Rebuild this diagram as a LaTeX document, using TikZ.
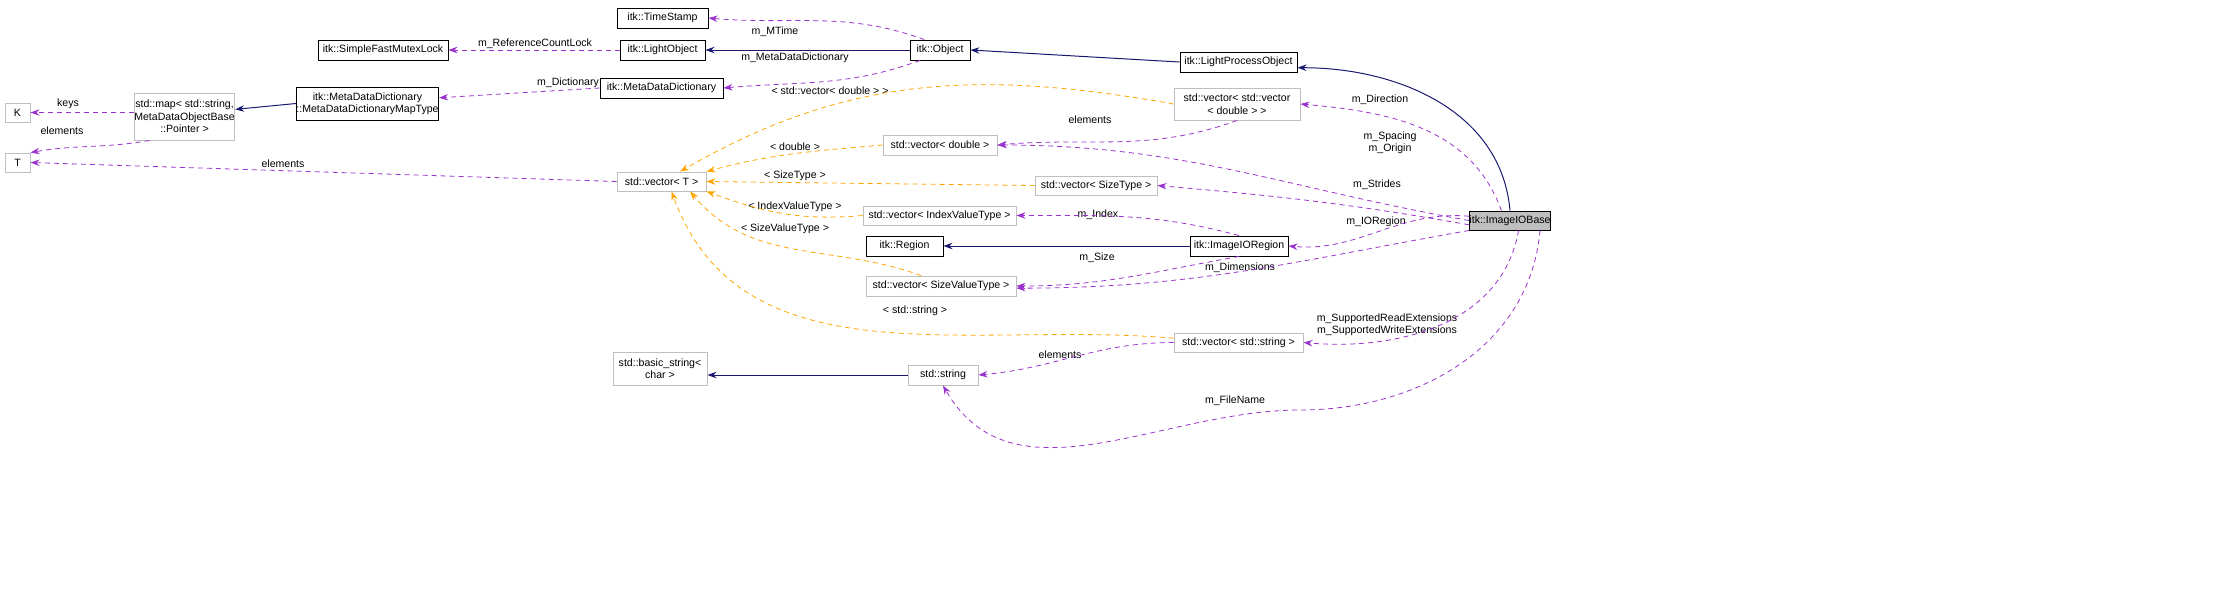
\documentclass[tikz,border=0pt]{standalone}
\usepackage{fontspec}
\setmainfont{Liberation Sans}
\usetikzlibrary{arrows.meta}
\definecolor{pur}{HTML}{9A32CD}
\definecolor{org}{HTML}{FFA500}
\definecolor{nav}{HTML}{191970}
\definecolor{gb}{HTML}{BFBFBF}
\newcommand\bx[6]{\node[#1,minimum width=#4*0.7pt,minimum height=#5*0.7pt] (#2) at (#3) {#6};}
\begin{document}
\begin{tikzpicture}[x=0.7pt,y=-0.7pt,font=\fontsize{7.4}{8.7}\selectfont,
 box/.style={draw=black,line width=0.63pt,inner sep=0,align=center},
 gbox/.style={box,draw=gb},
 tip/.style={-{Stealth[length=6.3pt,width=4.5pt]}},
 mem/.style={tip,pur,dashed,line width=0.56pt,dash pattern=on 3.5pt off 2.8pt},
 tpl/.style={tip,org,dashed,line width=0.56pt,dash pattern=on 3.5pt off 2.8pt},
 inh/.style={tip,nav,line width=0.7pt},
 lbl/.style={inner sep=0,text=black,align=center}]
\useasboundingbox (0,0) rectangle (2235,613);
\bx{box}{ts}{662.5,18}{91}{20}{itk::TimeStamp}
\bx{box}{sfml}{383,50}{130}{20}{itk::SimpleFastMutexLock}
\bx{box}{lo}{662.5,50}{85}{20}{itk::LightObject}
\bx{box}{obj}{940,50}{60}{20}{itk::Object}
\bx{box}{lpo}{1238.5,62}{117}{20}{itk::LightProcessObject}
\bx{box}{mdd}{661.5,88}{123}{20}{itk::MetaDataDictionary}
\bx{box}{mt}{367.5,103.5}{125}{33}{itk::MetaDataDictionary\\::MetaDataDictionaryMapType}
\bx{gbox}{map}{184.5,116.5}{93}{47}{std::map< std::string,\\ MetaDataObjectBase\\::Pointer >}
\bx{gbox}{K}{17.5,112.5}{25}{19}{K}
\bx{gbox}{T}{17.5,162.5}{25}{19}{T}
\bx{gbox}{vvd}{1237,104}{126}{32}{std::vector< std::vector\\< double > >}
\bx{gbox}{vd}{940,145}{114}{20}{std::vector< double >}
\bx{gbox}{vT}{661.5,181.5}{89}{19}{std::vector< T >}
\bx{gbox}{vST}{1096,185.5}{122}{19}{std::vector< SizeType >}
\bx{gbox}{vIVT}{939.5,215.5}{153}{19}{std::vector< IndexValueType >}
\bx{box}{ior}{1239,246}{98}{20}{itk::ImageIORegion}
\node[box,fill=gb,minimum width=56pt,minimum height=13.3pt] (iob) at (1510,220.5) {itk::ImageIOBase};
\bx{box}{reg}{904.5,246}{77}{20}{itk::Region}
\bx{gbox}{vSVT}{941,286}{150}{20}{std::vector< SizeValueType >}
\bx{gbox}{vs}{1238.5,342.5}{129}{19}{std::vector< std::string >}
\bx{gbox}{bsc}{660,368.5}{94}{33}{std::basic\_string<\\ char >}
\bx{gbox}{str}{943,375}{70}{20}{std::string}
% labels
\node[lbl] (l1) at (775,32) {m\_MTime};
\node[lbl] (l2) at (535,44) {m\_ReferenceCountLock};
\node[lbl] (l3) at (795,58) {m\_MetaDataDictionary};
\node[lbl] (l4) at (568,83) {m\_Dictionary};
\node[lbl] (l5) at (68,104) {keys};
\node[lbl] (l6) at (62,131) {elements};
\node[lbl] (l7) at (283,164) {elements};
\node[lbl] (l8) at (1380,100) {m\_Direction};
\node[lbl] (l9) at (1090,120) {elements};
\node[lbl] (l10) at (1390,143) {m\_Spacing\\m\_Origin};
\node[lbl] (l11) at (1377,185) {m\_Strides};
\node[lbl] (l12) at (1098,215) {m\_Index};
\node[lbl] (l13) at (1376,222) {m\_IORegion};
\node[lbl] (l14) at (1097,258) {m\_Size};
\node[lbl] (l15) at (1240,268) {m\_Dimensions};
\node[lbl] (l16) at (1387,325) {m\_SupportedReadExtensions\\m\_SupportedWriteExtensions};
\node[lbl] (l17) at (1060,355) {elements};
\node[lbl] (l18) at (1235,401) {m\_FileName};
\node[lbl] (t1) at (830,91) {< std::vector< double > >};
\node[lbl] (t2) at (795,147) {< double >};
\node[lbl] (t3) at (795,176) {< SizeType >};
\node[lbl] (t4) at (795,207) {< IndexValueType >};
\node[lbl] (t5) at (785,229) {< SizeValueType >};
\node[lbl] (t6) at (915,311) {< std::string >};
% inheritance
\draw[inh] (obj.west) -- (lo.east);
\draw[inh] (lpo.west) -- (obj.east);
\draw[inh] (iob.north) to[out=95,in=0] ([yshift=-4pt]lpo.east);
\draw[inh] (mt.west) -- ([yshift=5pt]map.east);
\draw[inh] (ior.west) -- (reg.east);
\draw[inh] (str.west) -- (bsc.east |- str.west);
% members
\draw[mem] ([xshift=-11pt]obj.north) to[out=160,in=-5] (ts.east);
\draw[mem] (lo.west) -- (sfml.east);
\draw[mem] ([xshift=-14pt]obj.south) to[out=200,in=5] (mdd.east);
\draw[mem] (mdd.west) -- ([yshift=4pt]mt.east);
\draw[mem] (map.west |- K.east) -- (K.east);
\draw[mem] ([xshift=11pt]map.south west) to[out=190,in=10] (T.north east);
\draw[mem] (vT.west) -- (T.east);
\draw[mem] ([xshift=-6pt]iob.north) to[out=110,in=-5] (vvd.east);
\draw[mem] (vvd.south) to[out=200,in=5] (vd.east);
\draw[mem] (iob.west) to[out=170,in=0] (vd.east);
\draw[mem] ([yshift=-3pt]iob.west) to[out=170,in=-5] (vST.east);
\draw[mem] (ior.north) to[out=165,in=0] (vIVT.east);
\draw[mem] ([yshift=3pt]iob.west) to[out=175,in=-5] (ior.east);
\draw[mem] (ior.south) to[out=190,in=0] (vSVT.east);
\draw[mem] (iob.south west) to[out=190,in=0] ([yshift=-1.5pt]vSVT.east);
\draw[mem] ([xshift=6pt]iob.south) to[out=260,in=-5] (vs.east);
\draw[mem] (vs.west) to[out=180,in=5] (str.east);
\coordinate (fnc) at (1300,410);
\draw[mem] ([xshift=21pt]iob.south) to[out=265,in=0] (fnc) to[out=180,in=-60] (str.south);
% templates
\draw[tpl] (vvd.west) to[out=170,in=30] ([xshift=13pt]vT.north);
\draw[tpl] (vd.west) to[out=185,in=15] (vT.north east);
\draw[tpl] (vST.west) -- (vT.east);
\draw[tpl] (vIVT.west) to[out=185,in=-20] (vT.south east);
\draw[tpl] ([xshift=-14pt]vSVT.north) to[out=160,in=-50] ([xshift=20pt]vT.south);
\draw[tpl] ([yshift=3pt]vs.west) to[out=175,in=-70] ([xshift=7pt]vT.south);
\end{tikzpicture}
\end{document}
